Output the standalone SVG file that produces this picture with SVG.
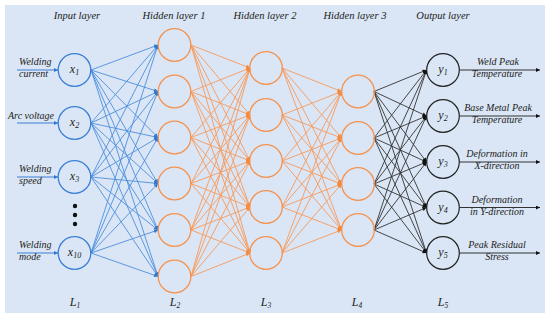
<svg xmlns="http://www.w3.org/2000/svg" width="550" height="318" viewBox="0 0 550 318">
<style>
text{font-family:'Liberation Serif','Times New Roman','DejaVu Serif',serif;font-style:italic;fill:#222;}
.h{font-size:10.5px;text-anchor:middle;}
.s{font-size:10px;}
.o{font-size:10px;text-anchor:middle;}
.nl{font-size:12px;text-anchor:middle;}
.bl{fill:none;stroke:#3a7fd5;stroke-width:1.3;}
.or{fill:none;stroke:#f5924e;stroke-width:1.3;}
.bk{fill:none;stroke:#222;stroke-width:1.2;}
.cb line{stroke:#4d8fdc;stroke-width:0.9;marker-end:url(#mb);}
.co line{stroke:#f7995a;stroke-width:0.9;marker-end:url(#mo);}
.ck line{stroke:#333;stroke-width:0.9;marker-end:url(#mk);}
.ia line{stroke:#3a7fd5;stroke-width:1;marker-end:url(#mb);}
.oa line{stroke:#333;stroke-width:1;marker-end:url(#mk);}
</style>
<defs>
<marker id="mb" viewBox="0 0 6 6" refX="6" refY="3" markerWidth="4.5" markerHeight="4" orient="auto" markerUnits="userSpaceOnUse"><path d="M0,0 L6,3 L0,6 z" fill="#2f78d2"/></marker>
<marker id="mo" viewBox="0 0 6 6" refX="6" refY="3" markerWidth="4.5" markerHeight="4" orient="auto" markerUnits="userSpaceOnUse"><path d="M0,0 L6,3 L0,6 z" fill="#f58a3c"/></marker>
<marker id="mk" viewBox="0 0 6 6" refX="6" refY="3" markerWidth="4.5" markerHeight="4" orient="auto" markerUnits="userSpaceOnUse"><path d="M0,0 L6,3 L0,6 z" fill="#111"/></marker>
</defs>
<rect x="5" y="5" width="540" height="308" fill="#dae6f5"/>

<g id="headers">
<text class="h" x="77" y="19">Input layer</text>
<text class="h" x="174" y="19">Hidden layer 1</text>
<text class="h" x="265" y="19">Hidden layer 2</text>
<text class="h" x="355" y="19">Hidden layer 3</text>
<text class="h" x="443" y="19">Output layer</text>
</g>

<g id="connectors">
<g class="ia">
<line x1="17" y1="70" x2="58" y2="70"/>
<line x1="17" y1="123" x2="58" y2="123"/>
<line x1="17" y1="177" x2="58" y2="177"/>
<line x1="17" y1="253" x2="58" y2="253"/>
</g>
<g class="cb">
<line x1="91" y1="70" x2="158" y2="45"/><line x1="91" y1="70" x2="158" y2="91.5"/><line x1="91" y1="70" x2="158" y2="137.5"/><line x1="91" y1="70" x2="158" y2="183.5"/><line x1="91" y1="70" x2="158" y2="230"/><line x1="91" y1="70" x2="158" y2="276.5"/>
<line x1="91" y1="123" x2="158" y2="45"/><line x1="91" y1="123" x2="158" y2="91.5"/><line x1="91" y1="123" x2="158" y2="137.5"/><line x1="91" y1="123" x2="158" y2="183.5"/><line x1="91" y1="123" x2="158" y2="230"/><line x1="91" y1="123" x2="158" y2="276.5"/>
<line x1="91" y1="177" x2="158" y2="45"/><line x1="91" y1="177" x2="158" y2="91.5"/><line x1="91" y1="177" x2="158" y2="137.5"/><line x1="91" y1="177" x2="158" y2="183.5"/><line x1="91" y1="177" x2="158" y2="230"/><line x1="91" y1="177" x2="158" y2="276.5"/>
<line x1="91" y1="253" x2="158" y2="45"/><line x1="91" y1="253" x2="158" y2="91.5"/><line x1="91" y1="253" x2="158" y2="137.5"/><line x1="91" y1="253" x2="158" y2="183.5"/><line x1="91" y1="253" x2="158" y2="230"/><line x1="91" y1="253" x2="158" y2="276.5"/>
</g>
<g class="co">
<line x1="191" y1="45" x2="250" y2="68"/><line x1="191" y1="45" x2="250" y2="115"/><line x1="191" y1="45" x2="250" y2="161"/><line x1="191" y1="45" x2="250" y2="207"/><line x1="191" y1="45" x2="250" y2="253"/>
<line x1="191" y1="91.5" x2="250" y2="68"/><line x1="191" y1="91.5" x2="250" y2="115"/><line x1="191" y1="91.5" x2="250" y2="161"/><line x1="191" y1="91.5" x2="250" y2="207"/><line x1="191" y1="91.5" x2="250" y2="253"/>
<line x1="191" y1="137.5" x2="250" y2="68"/><line x1="191" y1="137.5" x2="250" y2="115"/><line x1="191" y1="137.5" x2="250" y2="161"/><line x1="191" y1="137.5" x2="250" y2="207"/><line x1="191" y1="137.5" x2="250" y2="253"/>
<line x1="191" y1="183.5" x2="250" y2="68"/><line x1="191" y1="183.5" x2="250" y2="115"/><line x1="191" y1="183.5" x2="250" y2="161"/><line x1="191" y1="183.5" x2="250" y2="207"/><line x1="191" y1="183.5" x2="250" y2="253"/>
<line x1="191" y1="230" x2="250" y2="68"/><line x1="191" y1="230" x2="250" y2="115"/><line x1="191" y1="230" x2="250" y2="161"/><line x1="191" y1="230" x2="250" y2="207"/><line x1="191" y1="230" x2="250" y2="253"/>
<line x1="191" y1="276.5" x2="250" y2="68"/><line x1="191" y1="276.5" x2="250" y2="115"/><line x1="191" y1="276.5" x2="250" y2="161"/><line x1="191" y1="276.5" x2="250" y2="207"/><line x1="191" y1="276.5" x2="250" y2="253"/>
<line x1="282" y1="68" x2="341.5" y2="91.5"/><line x1="282" y1="68" x2="341.5" y2="138"/><line x1="282" y1="68" x2="341.5" y2="184"/><line x1="282" y1="68" x2="341.5" y2="230"/>
<line x1="282" y1="115" x2="341.5" y2="91.5"/><line x1="282" y1="115" x2="341.5" y2="138"/><line x1="282" y1="115" x2="341.5" y2="184"/><line x1="282" y1="115" x2="341.5" y2="230"/>
<line x1="282" y1="161" x2="341.5" y2="91.5"/><line x1="282" y1="161" x2="341.5" y2="138"/><line x1="282" y1="161" x2="341.5" y2="184"/><line x1="282" y1="161" x2="341.5" y2="230"/>
<line x1="282" y1="207" x2="341.5" y2="91.5"/><line x1="282" y1="207" x2="341.5" y2="138"/><line x1="282" y1="207" x2="341.5" y2="184"/><line x1="282" y1="207" x2="341.5" y2="230"/>
<line x1="282" y1="253" x2="341.5" y2="91.5"/><line x1="282" y1="253" x2="341.5" y2="138"/><line x1="282" y1="253" x2="341.5" y2="184"/><line x1="282" y1="253" x2="341.5" y2="230"/>
</g>
<g class="ck">
<line x1="374" y1="91.5" x2="426.5" y2="70"/><line x1="374" y1="91.5" x2="426.5" y2="116"/><line x1="374" y1="91.5" x2="426.5" y2="162"/><line x1="374" y1="91.5" x2="426.5" y2="207.5"/><line x1="374" y1="91.5" x2="426.5" y2="253"/>
<line x1="374" y1="138" x2="426.5" y2="70"/><line x1="374" y1="138" x2="426.5" y2="116"/><line x1="374" y1="138" x2="426.5" y2="162"/><line x1="374" y1="138" x2="426.5" y2="207.5"/><line x1="374" y1="138" x2="426.5" y2="253"/>
<line x1="374" y1="184" x2="426.5" y2="70"/><line x1="374" y1="184" x2="426.5" y2="116"/><line x1="374" y1="184" x2="426.5" y2="162"/><line x1="374" y1="184" x2="426.5" y2="207.5"/><line x1="374" y1="184" x2="426.5" y2="253"/>
<line x1="374" y1="230" x2="426.5" y2="70"/><line x1="374" y1="230" x2="426.5" y2="116"/><line x1="374" y1="230" x2="426.5" y2="162"/><line x1="374" y1="230" x2="426.5" y2="207.5"/><line x1="374" y1="230" x2="426.5" y2="253"/>
</g>
<g class="oa">
<line x1="459.5" y1="70" x2="540" y2="70"/>
<line x1="459.5" y1="116" x2="540" y2="116"/>
<line x1="459.5" y1="162" x2="540" y2="162"/>
<line x1="459.5" y1="207.5" x2="540" y2="207.5"/>
<line x1="459.5" y1="253" x2="540" y2="253"/>
</g>
</g>

<g id="input-labels">
<text class="s" x="19" y="65">Welding</text><text class="s" x="19" y="77">current</text>
<text class="s" x="8" y="119">Arc voltage</text>
<text class="s" x="19" y="172">Welding</text><text class="s" x="19" y="184">speed</text>
<text class="s" x="19" y="248">Welding</text><text class="s" x="19" y="260">mode</text>
</g>

<g id="x1"><circle class="bl" cx="74.5" cy="70" r="16.3"/><text class="nl" x="74.5" y="73">x<tspan font-size="8" dy="2">1</tspan></text></g>
<g id="x2"><circle class="bl" cx="74.5" cy="123" r="16.3"/><text class="nl" x="74.5" y="126">x<tspan font-size="8" dy="2">2</tspan></text></g>
<g id="x3"><circle class="bl" cx="74.5" cy="177" r="16.3"/><text class="nl" x="74.5" y="180">x<tspan font-size="8" dy="2">3</tspan></text></g>
<g id="dots"><circle cx="75" cy="206" r="2.2" fill="#111"/><circle cx="75" cy="215" r="2.2" fill="#111"/><circle cx="75" cy="224" r="2.2" fill="#111"/></g>
<g id="x10"><circle class="bl" cx="74.5" cy="253" r="16.3"/><text class="nl" x="74.5" y="256">x<tspan font-size="8" dy="2">10</tspan></text></g>

<g id="h1">
<circle class="or" cx="174.5" cy="45" r="16.3"/>
<circle class="or" cx="174.5" cy="91.5" r="16.3"/>
<circle class="or" cx="174.5" cy="137.5" r="16.3"/>
<circle class="or" cx="174.5" cy="183.5" r="16.3"/>
<circle class="or" cx="174.5" cy="230" r="16.3"/>
<circle class="or" cx="174.5" cy="276.5" r="16.3"/>
</g>
<g id="h2">
<circle class="or" cx="266" cy="68" r="16.3"/>
<circle class="or" cx="266" cy="115" r="16.3"/>
<circle class="or" cx="266" cy="161" r="16.3"/>
<circle class="or" cx="266" cy="207" r="16.3"/>
<circle class="or" cx="266" cy="253" r="16.3"/>
</g>
<g id="h3">
<circle class="or" cx="358" cy="91.5" r="16.3"/>
<circle class="or" cx="358" cy="138" r="16.3"/>
<circle class="or" cx="358" cy="184" r="16.3"/>
<circle class="or" cx="358" cy="230" r="16.3"/>
</g>

<g id="y1"><circle class="bk" cx="443" cy="70" r="16.3"/><text class="nl" x="443" y="73">y<tspan font-size="8" dy="2">1</tspan></text></g>
<g id="y2"><circle class="bk" cx="443" cy="116" r="16.3"/><text class="nl" x="443" y="119">y<tspan font-size="8" dy="2">2</tspan></text></g>
<g id="y3"><circle class="bk" cx="443" cy="162" r="16.3"/><text class="nl" x="443" y="165">y<tspan font-size="8" dy="2">3</tspan></text></g>
<g id="y4"><circle class="bk" cx="443" cy="207.5" r="16.3"/><text class="nl" x="443" y="210.5">y<tspan font-size="8" dy="2">4</tspan></text></g>
<g id="y5"><circle class="bk" cx="443" cy="253" r="16.3"/><text class="nl" x="443" y="256">y<tspan font-size="8" dy="2">5</tspan></text></g>

<g id="output-labels">
<text class="o" x="498" y="65">Weld Peak</text><text class="o" x="497" y="77">Temperature</text>
<text class="o" x="498" y="111">Base Metal Peak</text><text class="o" x="497" y="123">Temperature</text>
<text class="o" x="497" y="157">Deformation in</text><text class="o" x="497" y="169">X-direction</text>
<text class="o" x="497" y="202.5">Deformation</text><text class="o" x="497" y="214.5">in Y-direction</text>
<text class="o" x="497" y="248">Peak Residual</text><text class="o" x="497" y="260">Stress</text>
</g>

<g id="layer-names">
<text class="nl" x="75" y="306" font-size="11">L<tspan font-size="7.5" dy="2">1</tspan></text>
<text class="nl" x="175" y="306" font-size="11">L<tspan font-size="7.5" dy="2">2</tspan></text>
<text class="nl" x="266" y="306" font-size="11">L<tspan font-size="7.5" dy="2">3</tspan></text>
<text class="nl" x="357" y="306" font-size="11">L<tspan font-size="7.5" dy="2">4</tspan></text>
<text class="nl" x="443" y="306" font-size="11">L<tspan font-size="7.5" dy="2">5</tspan></text>
</g>
</svg>
